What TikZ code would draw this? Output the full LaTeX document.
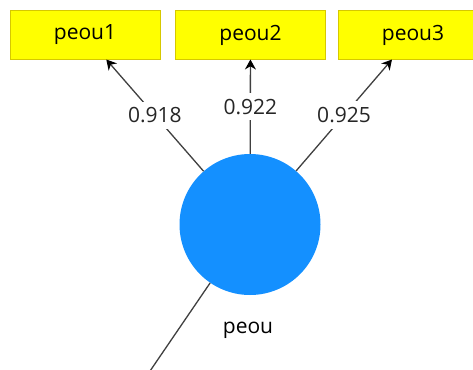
\documentclass[tikz,border=0pt]{standalone}
\usepackage{fontspec}
\setmainfont{Open Sans}
\usetikzlibrary{arrows.meta}
\definecolor{indfill}{RGB}{255,255,0}
\definecolor{inddraw}{RGB}{214,200,0}
\definecolor{lvfill}{RGB}{20,144,255}
\definecolor{pathcol}{RGB}{64,64,64}
\begin{document}
\begin{tikzpicture}[x=1pt,y=-1pt,
  indicator/.style={rectangle,draw=inddraw,fill=indfill,line width=1pt,
    minimum width=150pt,minimum height=48pt,inner sep=0pt,
    font=\fontsize{21}{24}\selectfont},
  latent/.style={circle,fill=lvfill,minimum size=141pt,inner sep=0pt},
  loading/.style={draw=pathcol,line width=1.3pt,
    -{Stealth[length=10pt,width=11pt,color=black]}},
  weight/.style={fill=white,inner sep=6pt,font=\fontsize{21}{24}\selectfont,text=black!85}]
  \clip (0,0) rectangle (473,369);
  \fill[white] (0,0) rectangle (473,369);
  % indicators
  \node[indicator] (p1) at (85,35) {peou1};
  \node[indicator] (p2) at (250.5,35) {peou2};
  \node[indicator] (p3) at (413,35) {peou3};
  % latent variable
  \node[latent] (lv) at (250,224.5) {};
  \node[font=\fontsize{21}{24}\selectfont] (lvname) at (248,330) {peou};
  % incoming path from outside the frame
  \coordinate (src) at (120,415);
  \draw[draw=pathcol,line width=1.3pt] (lv) -- (src);
  % outer loadings
  \draw[loading] (lv) -- node[weight] (w1) {0.918} (p1);
  \draw[loading] (lv) -- node[weight] (w2) {0.922} (p2);
  \draw[loading] (lv) -- node[weight] (w3) {0.925} (p3);
\end{tikzpicture}
\end{document}
